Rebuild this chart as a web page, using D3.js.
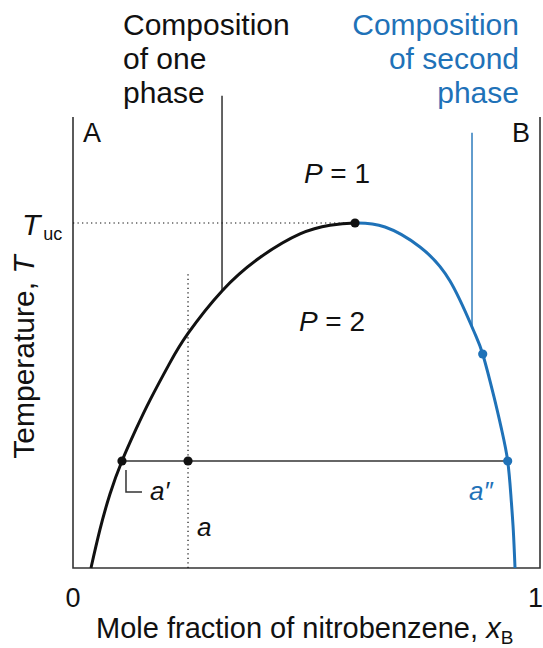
<!DOCTYPE html>
<html>
<head>
<meta charset="utf-8">
<script src="https://cdn.jsdelivr.net/npm/d3@7"></script>
<style>
  html, body { margin: 0; padding: 0; background: #fff; }
  svg text { font-family: "Liberation Sans", Arial, Helvetica, sans-serif; }
</style>
</head>
<body>
<svg id="chart" width="543" height="648"></svg>
<script>
// Coexistence curve of hexane / nitrobenzene (normalised temperature scale)
const curveX = [0.0385, 0.0578, 0.0792, 0.1049, 0.1349, 0.1649, 0.2077, 0.2463, 0.3191,
                0.4004, 0.4861, 0.5503, 0.6039,
                0.6681, 0.7430, 0.8073, 0.8572, 0.8773, 0.9015, 0.9180, 0.9308,
                0.9379, 0.9428, 0.9465];
const curveT = [0.000, 0.0854, 0.1641, 0.2373, 0.3078, 0.3723, 0.4554, 0.5202, 0.6144,
                0.6885, 0.7408, 0.7601, 0.7650,
                0.7561, 0.7118, 0.6364, 0.5277, 0.4745, 0.3792, 0.3060, 0.2373,
                0.1574, 0.0843, 0.000];

// Upper critical point
const critX = 0.6039, critT = 0.765;
// Overall composition a and the tie line through it
const compA = 0.2463, tieT = 0.2373, aTop = 0.656;
const aPrimeX = 0.1049, aDoubleX = 0.9308;
// Marked composition on the second-phase branch
const bluePointX = 0.8773, bluePointT = 0.4745;
// Pointer lines to the two branches
const pointerOneX = 0.3191, pointerOneTop = 1.047, pointerOneT = 0.6144;
const pointerTwoX = 0.8544, pointerTwoTop = 0.965, pointerTwoT = 0.535;

const tickLabels = ["0", "1"];
const tickValues = [0, 1];
const oneLines = ["Composition", "of one", "phase"];
const twoLines = ["Composition", "of second", "phase"];

const black = "#111", blue = "#1f72b8", frame = "#333";

const svg = d3.select("#chart");
const x = d3.scaleLinear().domain([0, 1]).range([73, 540]);
const y = d3.scaleLinear().domain([0, 1]).range([568, 117]);

const pts = curveX.map((v, i) => [v, curveT[i]]);
const line = d3.line().x(d => x(d[0])).y(d => y(d[1])).curve(d3.curveNatural);

const defs = svg.append("defs");
defs.append("clipPath").attr("id", "leftPart").append("rect")
  .attr("x", 0).attr("y", 0).attr("width", x(critX)).attr("height", 648);
defs.append("clipPath").attr("id", "rightPart").append("rect")
  .attr("x", x(critX)).attr("y", 0).attr("width", 543 - x(critX)).attr("height", 648);

// Frame: two side walls and base
svg.append("path")
  .attr("d", `M${x(0)},${y(1)}V${y(0)}H${x(1)}V${y(1)}`)
  .attr("fill", "none").attr("stroke", frame).attr("stroke-width", 1.6);

// Dotted guides
svg.append("line")
  .attr("x1", x(0)).attr("x2", x(critX)).attr("y1", y(critT)).attr("y2", y(critT))
  .attr("stroke", black).attr("stroke-width", 1.2).attr("stroke-dasharray", "1.3,3.2");
svg.append("line")
  .attr("x1", x(compA)).attr("x2", x(compA)).attr("y1", y(0)).attr("y2", y(aTop))
  .attr("stroke", black).attr("stroke-width", 1.2).attr("stroke-dasharray", "1.3,3.2");

// Tie line
svg.append("line")
  .attr("x1", x(aPrimeX)).attr("x2", x(aDoubleX)).attr("y1", y(tieT)).attr("y2", y(tieT))
  .attr("stroke", "#333").attr("stroke-width", 1.6);

// Pointer lines
svg.append("line")
  .attr("x1", x(pointerOneX)).attr("x2", x(pointerOneX))
  .attr("y1", y(pointerOneTop)).attr("y2", y(pointerOneT))
  .attr("stroke", "#222").attr("stroke-width", 1.4);
svg.append("line")
  .attr("x1", x(pointerTwoX)).attr("x2", x(pointerTwoX))
  .attr("y1", y(pointerTwoTop)).attr("y2", y(pointerTwoT))
  .attr("stroke", blue).attr("stroke-width", 1.4);

// Coexistence curve: black branch up to the critical point, blue beyond
svg.append("path").attr("d", line(pts)).attr("clip-path", "url(#leftPart)")
  .attr("fill", "none").attr("stroke", black).attr("stroke-width", 3);
svg.append("path").attr("d", line(pts)).attr("clip-path", "url(#rightPart)")
  .attr("fill", "none").attr("stroke", blue).attr("stroke-width", 3);

// Points
const dots = [
  [aPrimeX, tieT, black], [compA, tieT, black], [critX, critT, black],
  [bluePointX, bluePointT, blue], [aDoubleX, tieT, blue]
];
svg.selectAll("circle.pt").data(dots).join("circle")
  .attr("class", "pt")
  .attr("cx", d => x(d[0])).attr("cy", d => y(d[1])).attr("r", 4.6)
  .attr("fill", d => d[2]);

// Bracket next to a'
svg.append("path")
  .attr("d", `M${x(aPrimeX) + 4},${y(tieT) + 9}V${y(tieT) + 31}H${x(aPrimeX) + 20}`)
  .attr("fill", "none").attr("stroke", "#333").attr("stroke-width", 1.5);

// Text
const fs = 27;
function txt(px, py, s, opts = {}) {
  return svg.append("text").attr("x", px).attr("y", py)
    .attr("font-size", opts.size || fs)
    .attr("fill", opts.fill || black)
    .attr("text-anchor", opts.anchor || "start")
    .attr("font-style", opts.italic ? "italic" : "normal")
    .text(s);
}

oneLines.forEach((s, i) => txt(123, 35 + i * 34, s, { size: 30 }));
twoLines.forEach((s, i) => txt(519, 35 + i * 34, s, { size: 30, fill: blue, anchor: "end" }));

txt(83, 142, "A");
txt(530, 142, "B", { anchor: "end" });

function phaseLabel(cx, by, n) {
  const t = svg.append("text").attr("x", cx).attr("y", by)
    .attr("font-size", 28).attr("text-anchor", "middle").attr("fill", black);
  t.append("tspan").attr("font-style", "italic").text("P");
  t.append("tspan").text(" = " + n);
}
phaseLabel(337, 183, 1);
phaseLabel(332, 331, 2);

// T_uc label
const tuc = svg.append("text").attr("x", 22).attr("y", 235).attr("font-size", 30).attr("fill", black);
tuc.append("tspan").attr("font-style", "italic").text("T");
tuc.append("tspan").attr("font-size", 18).attr("dx", 3).attr("dy", 5).text("uc");

txt(150, 500, "a\u2032", { italic: true, size: 26 });
txt(197, 536, "a", { italic: true, size: 26 });
txt(469, 500, "a\u2033", { italic: true, size: 26, fill: blue });

// Axis tick labels
svg.selectAll("text.tick").data(tickValues).join("text")
  .attr("class", "tick")
  .attr("x", (d, i) => i === 0 ? x(d) : 543).attr("y", 607)
  .attr("font-size", fs).attr("text-anchor", (d, i) => i === 0 ? "middle" : "end")
  .attr("fill", black)
  .text((d, i) => tickLabels[i]);

// Axis titles
const xt = svg.append("text").attr("x", 96).attr("y", 638).attr("font-size", 29).attr("fill", black);
xt.append("tspan").text("Mole fraction of nitrobenzene, ");
xt.append("tspan").attr("font-style", "italic").text("x");
xt.append("tspan").attr("font-size", 19).attr("dy", 6).text("B");

const yt = svg.append("text").attr("transform", "translate(34,357) rotate(-90)")
  .attr("text-anchor", "middle").attr("font-size", 30).attr("fill", black);
yt.append("tspan").text("Temperature, ");
yt.append("tspan").attr("font-style", "italic").text("T");
</script>
</body>
</html>
